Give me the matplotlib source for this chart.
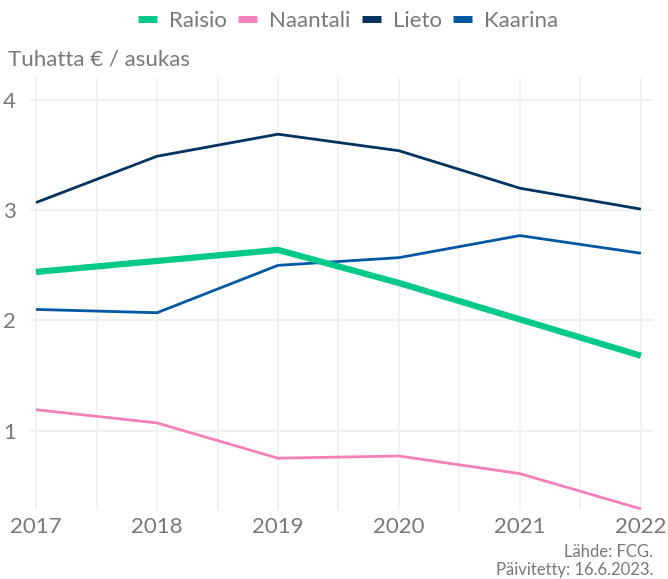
import numpy as np
import matplotlib.pyplot as plt
from matplotlib.ticker import MultipleLocator

plt.rcParams['font.family'] = ['Lato', 'DejaVu Sans']

# Data: thousand euros per resident
years = [2017, 2018, 2019, 2020, 2021, 2022]
raisio = [2.44, 2.54, 2.64, 2.34, 2.01, 1.68]
naantali = [1.19, 1.07, 0.75, 0.77, 0.61, 0.29]
lieto = [3.07, 3.49, 3.69, 3.54, 3.20, 3.01]
kaarina = [2.10, 2.07, 2.50, 2.57, 2.77, 2.61]

names = ['Raisio', 'Naantali', 'Lieto', 'Kaarina']
colors = ['#00C98A', '#F47FBA', '#00335F', '#0057A4']
widths = [4.5, 2.0, 2.0, 2.0]

text_col = '#787878'
grid_col = '#F0F0F0'

fig = plt.figure(figsize=(6.68, 5.79), dpi=100)
ax = fig.add_axes([30/668, 1 - 510/579, 623/668, 432/579])

series = [raisio, naantali, lieto, kaarina]
# draw thin lines first so Raisio sits on top
order = [1, 3, 2, 0]
for i in order:
    ax.plot(years, series[i], color=colors[i], lw=widths[i],
            solid_capstyle='butt', label=names[i], zorder=3 + (i == 0))

ax.set_xlim(2016.95, 2022.1)
ax.set_ylim(0.28, 4.2)
ax.xaxis.set_major_locator(MultipleLocator(1))
ax.xaxis.set_minor_locator(MultipleLocator(0.5))
ax.yaxis.set_major_locator(MultipleLocator(1))
ax.grid(which='both', axis='x', color=grid_col, lw=1.2)
ax.grid(which='major', axis='y', color=grid_col, lw=1.5)
ax.set_axisbelow(True)
for s in ax.spines.values():
    s.set_visible(False)
ax.tick_params(which='both', length=0, labelsize=16, labelcolor=text_col)
ax.tick_params(axis='x', pad=5)
ax.tick_params(axis='y', pad=10)

fig.text(8/668, 1 - 60/579, 'Tuhatta € / asukas', fontsize=16,
         color=text_col, ha='left', va='center')

handles = [plt.Line2D([], [], color=c, lw=5, solid_capstyle='butt') for c in colors]
leg = fig.legend(handles, names, loc='center', bbox_to_anchor=(348/668, 1 - 21/579),
                 ncol=4, frameon=False, fontsize=16, handlelength=0.85,
                 handletextpad=0.55, columnspacing=0.5)
for t in leg.get_texts():
    t.set_color(text_col)

fig.text(653/668, 1 - 552/579, 'Lähde: FCG.', fontsize=12, color=text_col,
         ha='right', va='center')
fig.text(653/668, 1 - 570/579, 'Päivitetty: 16.6.2023.', fontsize=12,
         color=text_col, ha='right', va='center')

fig.savefig('out.png', dpi=100)
